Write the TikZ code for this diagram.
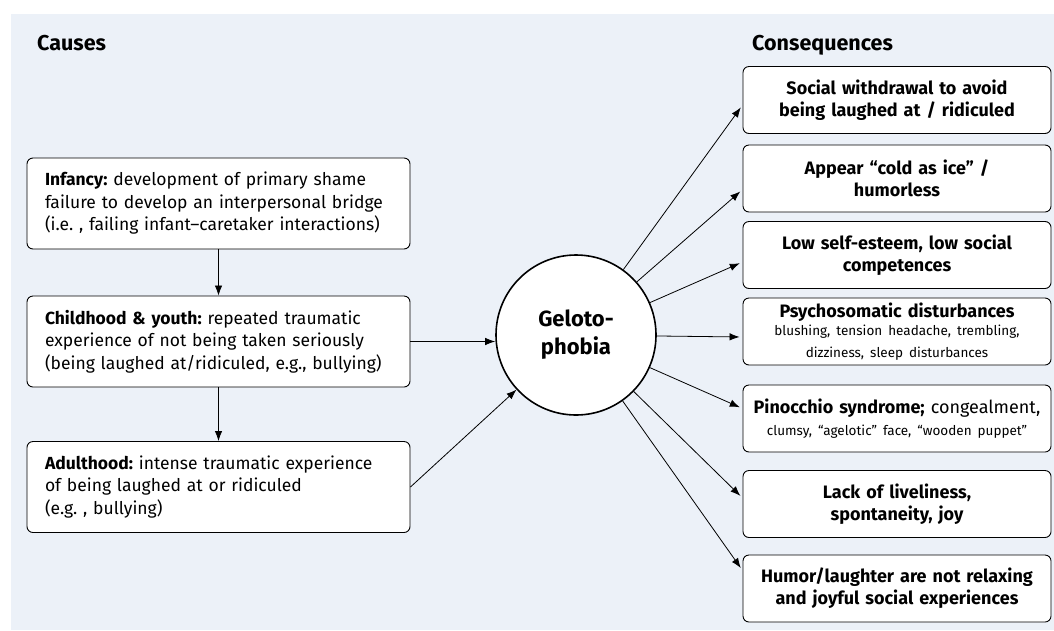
\documentclass[tikz,border=0pt]{standalone}
\usepackage{fontspec}
\usetikzlibrary{arrows.meta}
\setmainfont{Fira Sans}
\definecolor{fond}{RGB}{236,241,248}
\newcommand{\petit}{\mdseries\fontsize{13.5}{17.5}\selectfont}
\frenchspacing
\begin{document}
\begin{tikzpicture}[x=1pt,y=-1pt,> = {Latex[length=10pt,width=7.5pt]},
		causebox/.style={draw,fill=white,rounded corners=6pt,line width=0.9pt,minimum height=91pt,text width=347pt,inner xsep=18pt,align=left,font=\fontsize{17.5}{22.5}\selectfont},
		consbox/.style={draw,fill=white,rounded corners=6pt,line width=0.9pt,minimum height=67pt,text width=302pt,inner xsep=3pt,align=center,font=\bfseries\fontsize{18}{22}\selectfont},
		titre/.style={anchor=west,inner sep=0pt,font=\bfseries\fontsize{21.5}{24}\selectfont}]
			\useasboundingbox (0,0) rectangle (1054,630);
			\fill[fond] (11,14) rectangle (1054,630);
			\node[titre] (causes) at (37,43) {Causes};
			\node[titre] (conseq) at (752,45) {Consequences};
				%%%%%%%%
			\node[causebox] (inf) at (218.5,203.5) {\textbf{Infancy:} development of primary shame\\failure to develop an interpersonal bridge\\(i.e. , failing infant--caretaker interactions)};
			\node[causebox] (child) at (218.5,341.5) {\textbf{Childhood \& youth:} repeated traumatic\\experience of not being taken seriously\\(being laughed at/ridiculed, e.g., bullying)};
			\node[causebox] (adult) at (218.5,487) {\textbf{Adulthood:} intense traumatic experience\\of being laughed at or ridiculed\\(e.g. , bullying)};
			\node[draw,circle,fill=white,line width=1.6pt,minimum size=160pt,align=center,font=\bfseries\fontsize{22}{28}\selectfont] (gelo) at (576,335) {Geloto-\\phobia};
				%%%%%%%%
			\node[consbox] (soc) at (897,100) {Social withdrawal to avoid\\being laughed at / ridiculed};
			\node[consbox] (app) at (897,178.5) {Appear “cold as ice” /\\humorless};
			\node[consbox] (low) at (897,255) {Low self-esteem, low social\\competences};
			\node[consbox] (psy) at (897,331.5) {Psychosomatic disturbances\\{\petit blushing, tension headache, trembling,\\dizziness, sleep disturbances}};
			\node[consbox] (pin) at (897,418.5) {Pinocchio syndrome; {\mdseries congealment,}\\{\petit clumsy, “agelotic” face, “wooden puppet”}};
			\node[consbox] (lack) at (897,504) {Lack of liveliness,\\spontaneity, joy};
			\node[consbox] (hum) at (897,588.5) {Humor/laughter are not relaxing\\and joyful social experiences};
				%%%%%%%%
			\draw[->,line width=0.8pt] (inf) -- (child);
			\draw[->,line width=0.8pt] (child) -- (adult);
			\draw[->,line width=0.8pt] (child.east) -- (child.east -| gelo.west);
			\draw[->,line width=0.8pt] (adult.east) -- (gelo);
			\foreach \b/\d in {soc/-5,app/-11,low/-7,psy/-5.5,pin/10,lack/6,hum/18}
				\draw[->,line width=0.8pt,shorten >=3pt] (gelo) -- ([yshift=\d pt]\b.west);
		\end{tikzpicture}
\end{document}
